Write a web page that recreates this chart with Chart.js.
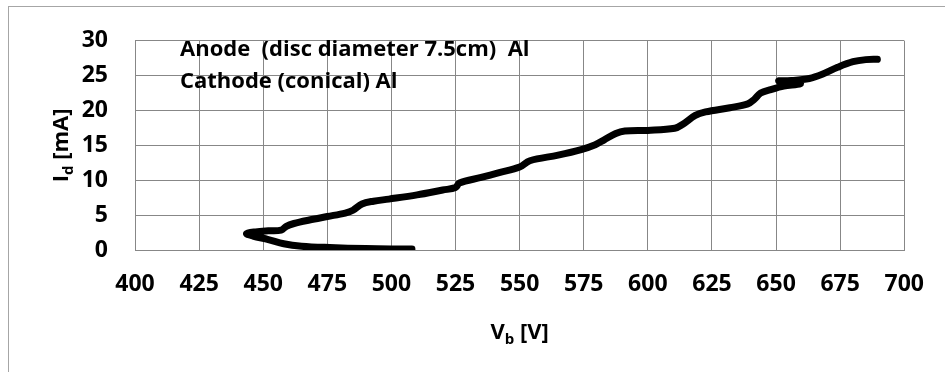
<!DOCTYPE html>
<html><head><meta charset="utf-8">
<script src="https://cdn.jsdelivr.net/npm/chart.js@4/dist/chart.umd.min.js"></script>
<style>html,body{margin:0;padding:0;background:#fff;} canvas{display:block;}</style>
</head><body>
<canvas id="c" width="945" height="372"></canvas>
<script>
// Discharge voltage V_b [V] and discharge current I_d [mA], in drawing order
const voltage = [508, 500, 490, 476, 465, 458, 452, 446, 443.5,
  447, 452, 457, 459, 462, 468, 475, 482, 485, 488.5, 493, 499,
  510, 520, 525, 526.5, 535, 542, 550, 554, 565, 574, 579.5, 583, 587.5, 591, 600, 610.5, 613.5, 618.5, 622.5, 632, 639, 641.5, 644, 648,
  653, 659.5, 658, 651, 656, 663, 668, 674, 680, 685, 689.5];
const current = [0.15, 0.15, 0.2, 0.35, 0.55, 0.9, 1.5, 2.0, 2.35,
  2.6, 2.75, 2.85, 3.4, 3.8, 4.3, 4.8, 5.3, 5.7, 6.6, 7.0, 7.3,
  7.9, 8.6, 8.95, 9.6, 10.4, 11.1, 11.9, 12.8, 13.6, 14.4, 15.1, 15.8, 16.7, 17.05, 17.15, 17.45, 18.0, 19.3, 19.8, 20.4, 20.95, 21.6, 22.5, 23.0,
  23.5, 23.85, 24.15, 24.25, 24.3, 24.6, 25.2, 26.2, 27.0, 27.3, 27.35];
const xTicks = [400, 425, 450, 475, 500, 525, 550, 575, 600, 625, 650, 675, 700];
const yTicks = [0, 5, 10, 15, 20, 25, 30];
const annotationLines = ["Anode  (disc diameter 7.5cm)  Al", "Cathode (conical) Al"];
const xTitle = [["V", 0], ["b", 1], [" [V]", 0]];
const yTitle = [["I", 0], ["d", 1], [" [mA]", 0]];

const FAM = '"Open Sans", "Noto Sans", sans-serif';
const GRID = '#878787';

function richWidth(ctx, parts, size, sub) {
  let w = 0;
  for (const [t, s] of parts) { ctx.font = 'bold ' + (s ? sub : size) + 'px ' + FAM; w += ctx.measureText(t).width; }
  return w;
}
function drawRich(ctx, parts, size, sub, x0, base) {
  let x = x0;
  ctx.textBaseline = 'alphabetic'; ctx.textAlign = 'left';
  for (const [t, s] of parts) {
    ctx.font = 'bold ' + (s ? sub : size) + 'px ' + FAM;
    ctx.fillText(t, x, base + (s ? 5 : 0));
    x += ctx.measureText(t).width;
  }
}

const decor = {
  id: 'decor',
  beforeDraw(chart) {
    const ctx = chart.ctx;
    ctx.save();
    ctx.fillStyle = '#fff';
    ctx.fillRect(0, 0, chart.width, chart.height);
    ctx.strokeStyle = '#a6a6a6';
    ctx.lineWidth = 1;
    ctx.strokeRect(8.5, 6.5, 1000, 1000);
    ctx.restore();
  },
  afterDraw(chart) {
    const ctx = chart.ctx;
    const a = chart.chartArea;
    ctx.save();
    ctx.fillStyle = '#000';
    ctx.font = 'bold 22px ' + FAM;
    ctx.textAlign = 'left'; ctx.textBaseline = 'alphabetic';
    ctx.fillText(annotationLines[0], 180, 56);
    ctx.fillText(annotationLines[1], 180, 87.5);
    const wx = richWidth(ctx, xTitle, 22, 15);
    drawRich(ctx, xTitle, 22, 15, (a.left + a.right) / 2 - wx / 2, 339);
    const wy = richWidth(ctx, yTitle, 22, 15);
    ctx.translate(68, (a.top + a.bottom) / 2);
    ctx.rotate(-Math.PI / 2);
    drawRich(ctx, yTitle, 22, 15, -wy / 2, 0);
    ctx.restore();
  }
};

new Chart(document.getElementById('c'), {
  type: 'scatter',
  data: {
    datasets: [{
      data: voltage.map((v, i) => ({ x: v, y: current[i] })),
      showLine: true,
      borderColor: '#000',
      borderWidth: 7,
      pointRadius: 0,
      tension: 0.35,
      borderCapStyle: 'round',
      borderJoinStyle: 'round',
      fill: false
    }]
  },
  options: {
    responsive: false,
    animation: false,
    devicePixelRatio: 1,
    layout: { padding: { left: 0, top: 36, right: 38, bottom: 0 } },
    plugins: { legend: { display: false }, tooltip: { enabled: false } },
    scales: {
      x: {
        type: 'linear', min: 400, max: 700,
        afterBuildTicks: s => { s.ticks = xTicks.map(v => ({ value: v })); },
        afterFit: s => { s.height = 122; },
        grid: { color: GRID, lineWidth: 1, drawTicks: false },
        border: { color: GRID, width: 1 },
        ticks: { color: '#000', padding: 21, maxRotation: 0, autoSkip: false,
          font: { family: FAM, size: 23, weight: 'bold' } }
      },
      y: {
        type: 'linear', min: 0, max: 30,
        afterBuildTicks: s => { s.ticks = yTicks.map(v => ({ value: v })); },
        afterFit: s => { s.width = 135; },
        grid: { color: GRID, lineWidth: 1, drawTicks: false },
        border: { color: GRID, width: 1 },
        ticks: { color: '#000', padding: 27, autoSkip: false,
          font: { family: FAM, size: 23, weight: 'bold' } }
      }
    }
  },
  plugins: [decor]
});
</script>
</body></html>
